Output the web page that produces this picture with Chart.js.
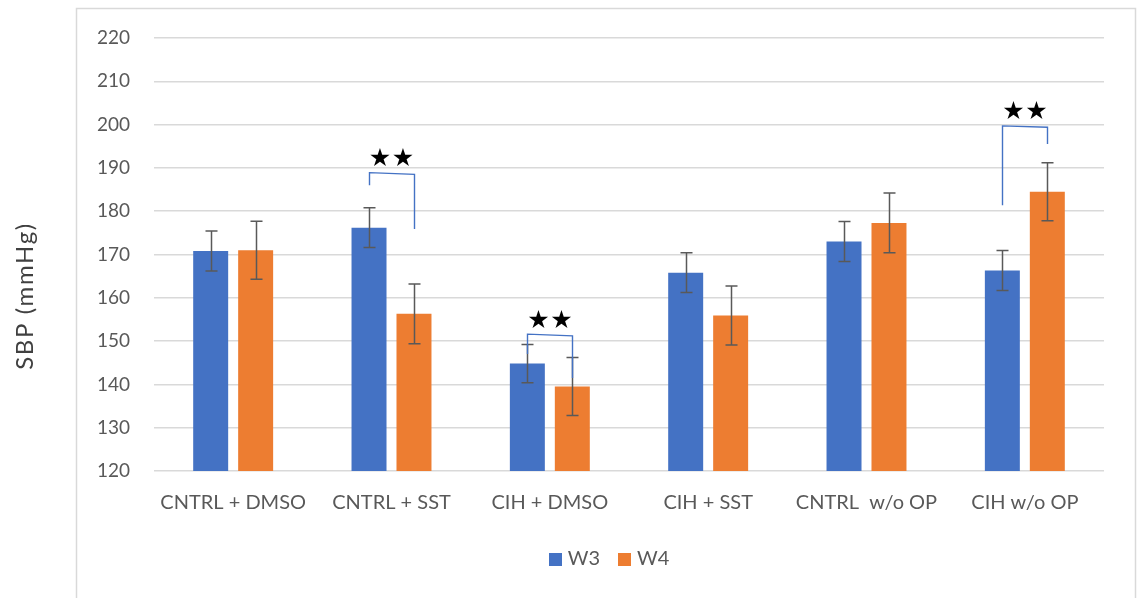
<!DOCTYPE html>
<html>
<head>
<meta charset="utf-8">
<script src="https://cdn.jsdelivr.net/npm/chart.js@4.4.1/dist/chart.umd.min.js"></script>
<style>
  html, body { margin: 0; padding: 0; background: #ffffff; }
  canvas { display: block; }
</style>
</head>
<body>
<canvas id="sbpChart" width="1139" height="598"></canvas>
<script>
// Systolic blood pressure by group, week 3 vs week 4 (mean ± error)
const groups = ['CNTRL + DMSO', 'CNTRL + SST', 'CIH + DMSO', 'CIH + SST', 'CNTRL  w/o OP', 'CIH w/o OP'];
const w3 = [170.8, 176.2, 144.8, 165.8, 173.0, 166.3];
const w3Err = [4.6, 4.6, 4.4, 4.6, 4.6, 4.6];
const w4 = [171.0, 156.3, 139.5, 155.9, 177.3, 184.5];
const w4Err = [6.7, 6.9, 6.7, 6.8, 6.9, 6.7];
const yTicks = [120, 130, 140, 150, 160, 170, 180, 190, 200, 210, 220];

// Significance brackets (★★): group index, left arm [top, bottom] and right arm [top, bottom] in mmHg
const sigGroup = [1, 2, 5];
const sigLeft = [[188.9, 186.0], [151.6, 147.0], [199.7, 181.4]];
const sigRight = [[188.5, 175.9], [151.2, 141.5], [199.4, 195.5]];

const BLUE = '#4472C4';
const ORANGE = '#ED7D31';
const TEXT = '#595959';
const GRID = '#d9d9d9';
const FONT = 'Lato, "Open Sans", sans-serif';

// Outer frame around the chart
const framePlugin = {
  id: 'frame',
  beforeDraw(chart) {
    const ctx = chart.ctx;
    ctx.save();
    ctx.fillStyle = '#ffffff';
    ctx.fillRect(0, 0, chart.width, chart.height);
    ctx.strokeStyle = GRID;
    ctx.lineWidth = 1.5;
    ctx.strokeRect(76.5, 8.5, 1059, 640);
    ctx.restore();
  }
};

// Rotated y-axis title
const yTitlePlugin = {
  id: 'yTitle',
  afterDraw(chart) {
    const ctx = chart.ctx;
    const text = 'SBP (mmHg)';
    ctx.save();
    ctx.translate(25, 296);
    ctx.rotate(-Math.PI / 2);
    ctx.fillStyle = '#404040';
    ctx.font = '24px ' + FONT;
    if ('letterSpacing' in ctx) {
      const w = ctx.measureText(text).width;
      const sp = Math.max(0, (146 - w) / (text.length - 1));
      ctx.letterSpacing = sp.toFixed(2) + 'px';
    }
    ctx.textAlign = 'center';
    ctx.textBaseline = 'middle';
    ctx.fillText(text, 0, 0);
    ctx.restore();
  }
};

// Legend centred below the axis labels
const legendPlugin = {
  id: 'bottomLegend',
  afterDraw(chart) {
    const ctx = chart.ctx;
    const box = 13, gap = 6, spacing = 18;
    ctx.save();
    ctx.font = '20px ' + FONT;
    ctx.textBaseline = 'middle';
    ctx.textAlign = 'left';
    const items = chart.data.datasets.map(ds => ({ text: ds.label, color: ds.backgroundColor, w: ctx.measureText(ds.label).width }));
    const total = items.reduce((a, it) => a + box + gap + it.w, 0) + spacing * (items.length - 1);
    let x = 609 - total / 2;
    const cy = 559;
    items.forEach(it => {
      ctx.fillStyle = it.color;
      ctx.fillRect(Math.round(x), Math.round(cy - box / 2), box, box);
      x += box + gap;
      ctx.fillStyle = TEXT;
      ctx.fillText(it.text, x, cy);
      x += it.w + spacing;
    });
    ctx.restore();
  }
};

// Error bars drawn on top of each bar
const errorBarPlugin = {
  id: 'errorBars',
  afterDatasetsDraw(chart) {
    const ctx = chart.ctx;
    const y = chart.scales.y;
    const errs = [w3Err, w4Err];
    const vals = [w3, w4];
    ctx.save();
    ctx.strokeStyle = '#595959';
    ctx.lineWidth = 1.5;
    chart.data.datasets.forEach((ds, di) => {
      const meta = chart.getDatasetMeta(di);
      meta.data.forEach((bar, i) => {
        const x = Math.round(bar.x) + 0.5;
        const top = y.getPixelForValue(vals[di][i] + errs[di][i]);
        const bot = y.getPixelForValue(vals[di][i] - errs[di][i]);
        const cap = 6;
        ctx.beginPath();
        ctx.moveTo(x, top); ctx.lineTo(x, bot);
        ctx.moveTo(x - cap, top); ctx.lineTo(x + cap, top);
        ctx.moveTo(x - cap, bot); ctx.lineTo(x + cap, bot);
        ctx.stroke();
      });
    });
    ctx.restore();
  }
};

// Significance brackets and stars
const sigPlugin = {
  id: 'significance',
  afterDatasetsDraw(chart) {
    const ctx = chart.ctx;
    const y = chart.scales.y;
    const xs = chart.scales.x;
    const m0 = chart.getDatasetMeta(0);
    const m1 = chart.getDatasetMeta(1);
    ctx.save();
    sigGroup.forEach((g, k) => {
      const xl = Math.round(m0.data[g].x) + 0.5;
      const xr = Math.round(m1.data[g].x) + 0.5;
      const l0 = y.getPixelForValue(sigLeft[k][0]);
      const l1 = y.getPixelForValue(sigLeft[k][1]);
      const r0 = y.getPixelForValue(sigRight[k][0]);
      const r1 = y.getPixelForValue(sigRight[k][1]);
      ctx.strokeStyle = BLUE;
      ctx.lineWidth = 1.4;
      ctx.beginPath();
      ctx.moveTo(xl, l1); ctx.lineTo(xl, l0);
      ctx.lineTo(xr, r0); ctx.lineTo(xr, r1);
      ctx.stroke();
      const cx = xs.getPixelForValue(g);
      const sy = Math.min(l0, r0) - 13;
      ctx.fillStyle = '#000000';
      ctx.font = '25px "DejaVu Sans", sans-serif';
      ctx.textAlign = 'center';
      ctx.textBaseline = 'middle';
      ctx.fillText('\u2605', cx - 11.5, sy);
      ctx.fillText('\u2605', cx + 11.5, sy);
    });
    ctx.restore();
  }
};

new Chart(document.getElementById('sbpChart'), {
  type: 'bar',
  data: {
    labels: groups,
    datasets: [
      { label: 'W3', data: w3, backgroundColor: BLUE, borderWidth: 0, categoryPercentage: 0.568, barPercentage: 0.778 },
      { label: 'W4', data: w4, backgroundColor: ORANGE, borderWidth: 0, categoryPercentage: 0.568, barPercentage: 0.778 }
    ]
  },
  options: {
    responsive: false,
    devicePixelRatio: 1,
    animation: false,
    layout: { padding: { top: 38, right: 35, bottom: 0, left: 0 } },
    plugins: {
      legend: { display: false },
      tooltip: { enabled: false }
    },
    scales: {
      x: {
        grid: { display: false, drawTicks: false },
        border: { display: false },
        ticks: { color: TEXT, font: { family: FONT, size: 20 }, padding: 20, maxRotation: 0, autoSkip: false },
        afterFit(s) { s.height = 127; }
      },
      y: {
        min: 120,
        max: 220,
        afterBuildTicks(s) { s.ticks = yTicks.map(v => ({ value: v })); },
        grid: { color: GRID, lineWidth: 1.5, drawTicks: false },
        border: { display: false },
        ticks: { color: TEXT, font: { family: FONT, size: 19 }, padding: 24 },
        afterFit(s) { s.width = 154; }
      }
    }
  },
  plugins: [framePlugin, errorBarPlugin, sigPlugin, yTitlePlugin, legendPlugin]
});
</script>
</body>
</html>
